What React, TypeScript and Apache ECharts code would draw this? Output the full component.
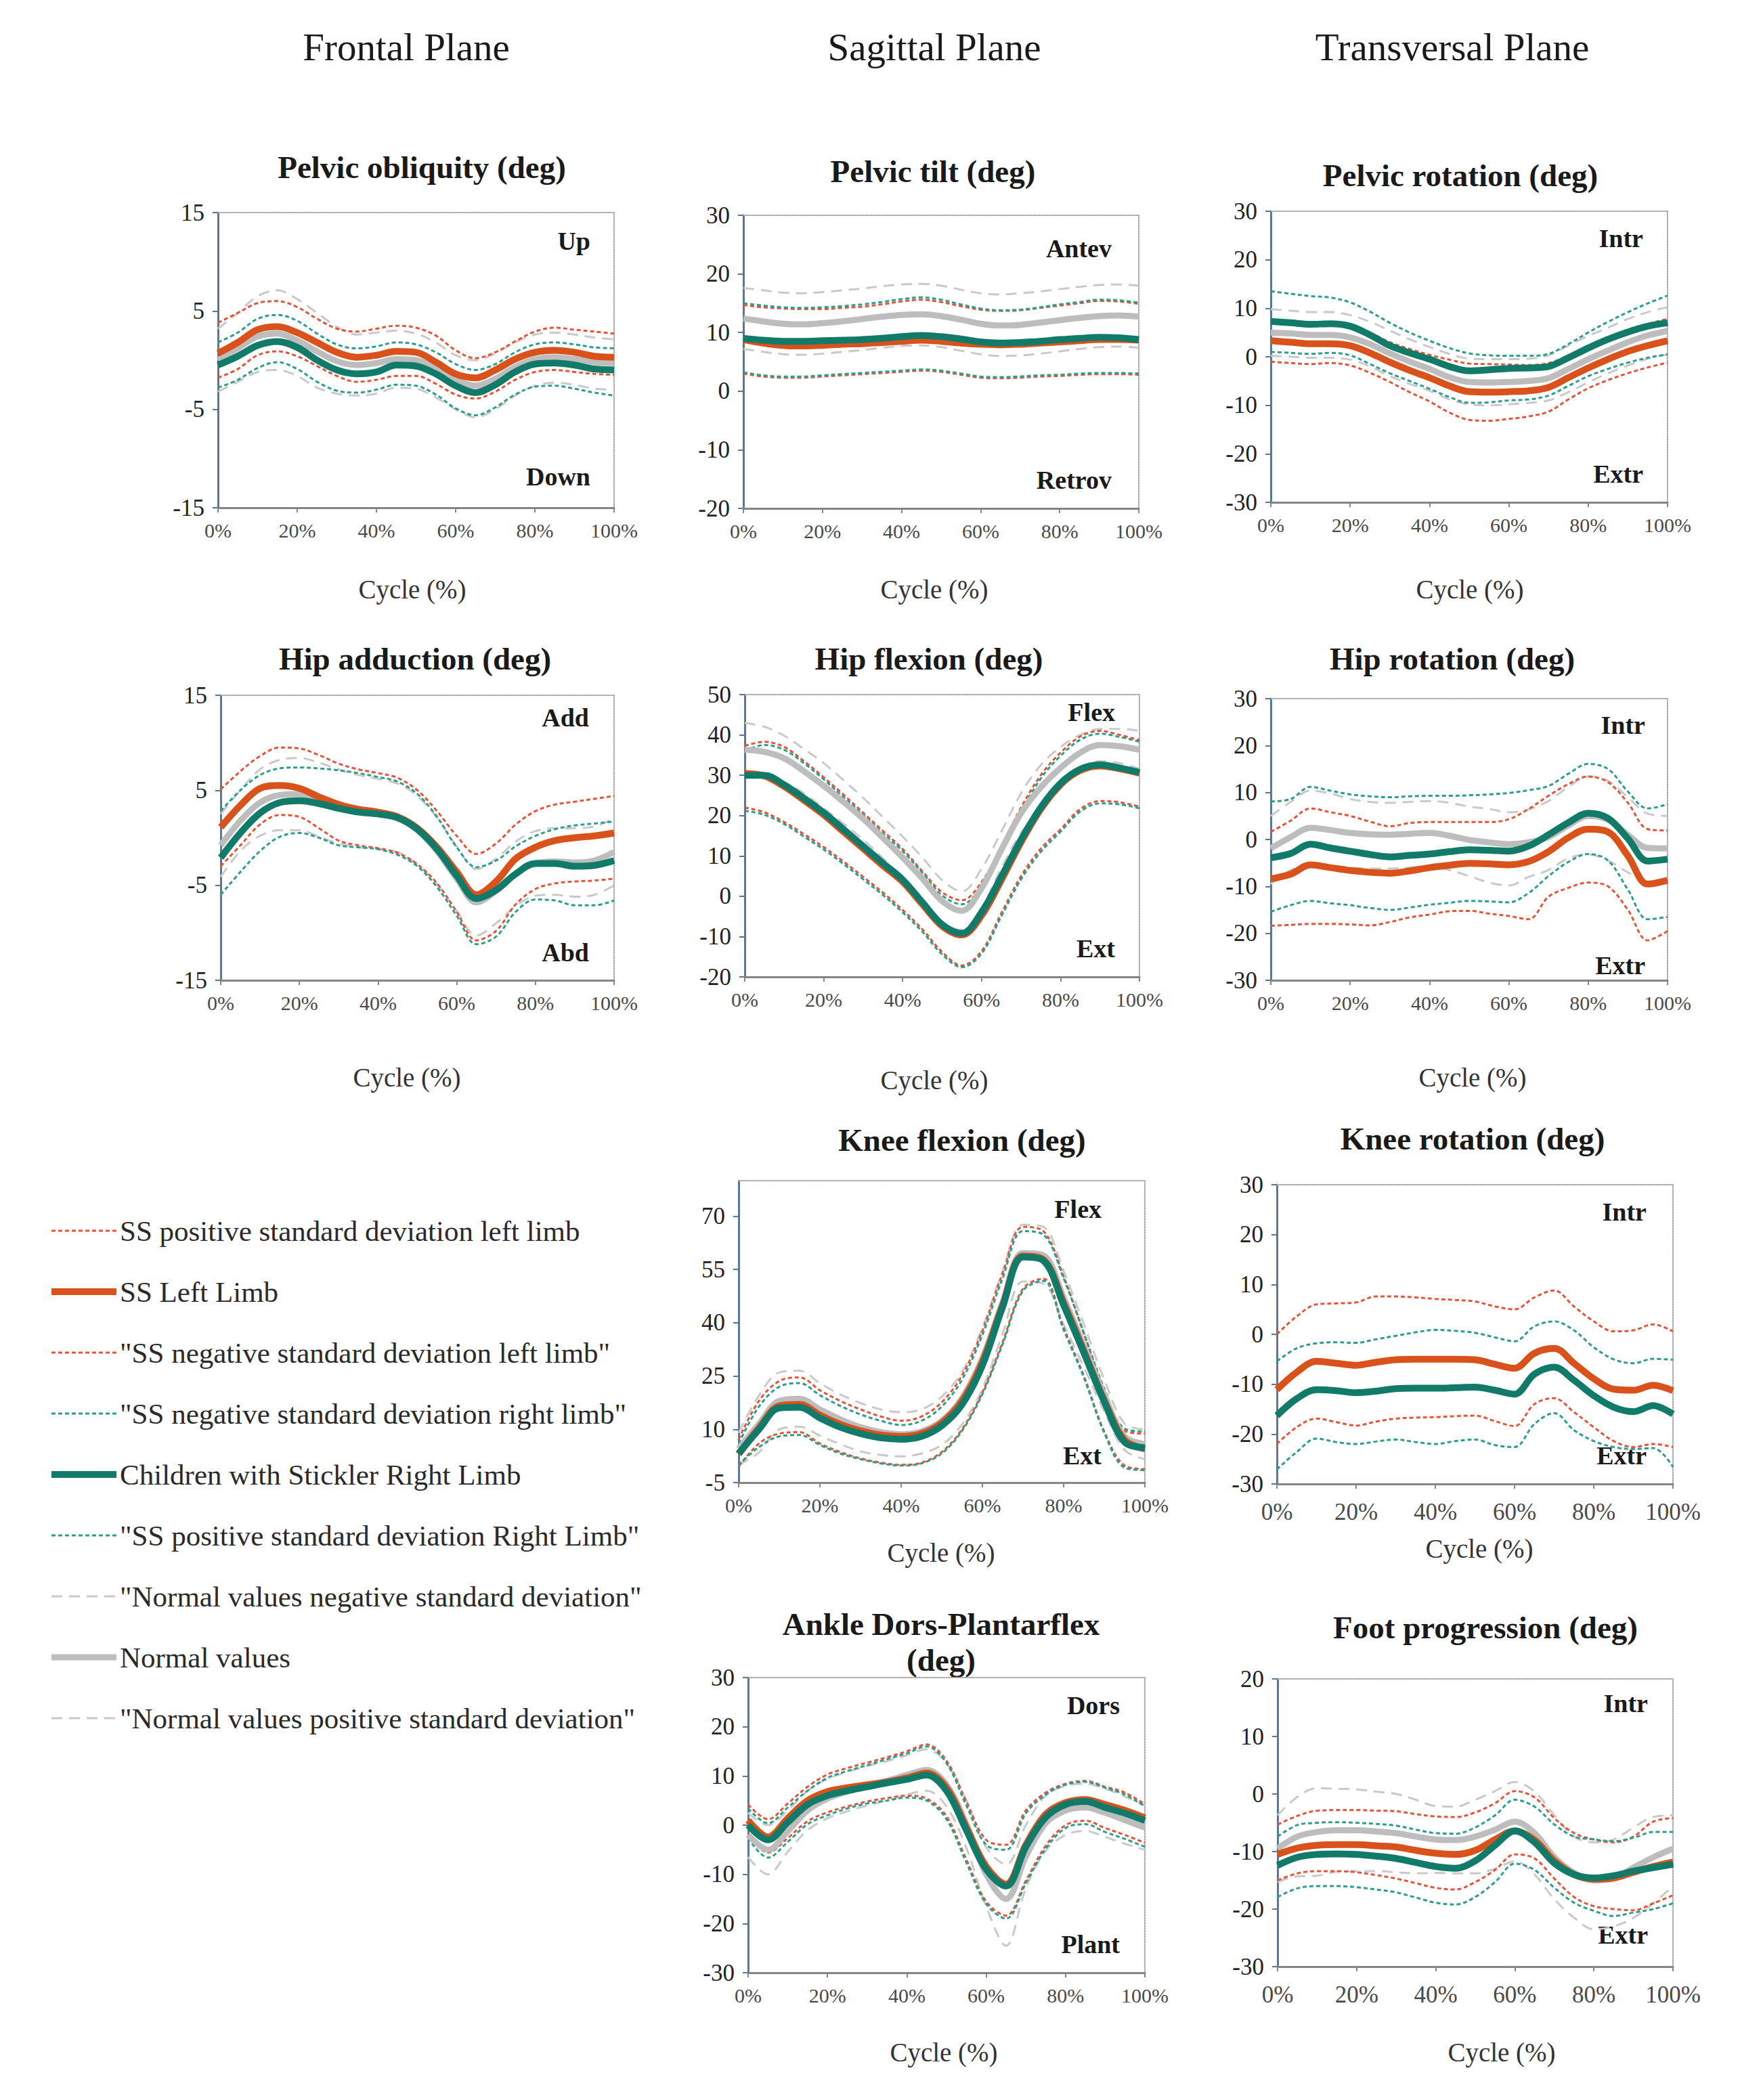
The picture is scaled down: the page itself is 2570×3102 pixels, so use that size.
import React, { useEffect, useRef } from "react";
import * as echarts from "echarts";

// ---------- data (gait cycle %, degrees) ----------
const X = [0, 5, 10, 15, 20, 25, 30, 35, 40, 45, 50, 55, 60, 65, 70, 75, 80, 85, 90, 95, 100];

// Pelvic obliquity
const PO_L = [0.7, 1.8, 3.1, 3.4, 2.8, 1.8, 0.8, 0.3, 0.5, 0.9, 0.8, -0.2, -1.4, -1.8, -1.0, 0.1, 0.8, 1.0, 0.8, 0.4, 0.3];
const PO_L_P = [3.8, 4.8, 5.8, 6.0, 5.4, 4.2, 3.2, 2.9, 3.2, 3.5, 3.3, 2.5, 1.0, 0.2, 0.8, 1.9, 2.9, 3.3, 3.1, 2.9, 2.7];
const PO_L_N = [-1.8, -0.9, 0.5, 0.9, 0.4, -0.6, -1.6, -2.2, -2.0, -1.6, -1.6, -2.4, -3.5, -3.9, -3.2, -2.0, -1.2, -1.0, -1.2, -1.4, -1.5];
const PO_R = [-0.5, 0.4, 1.5, 1.9, 1.3, 0.0, -1.0, -1.4, -1.2, -0.5, -0.6, -1.4, -2.6, -3.3, -2.5, -1.2, -0.4, -0.3, -0.5, -0.9, -1.0];
const PO_R_P = [1.8, 2.8, 4.2, 4.6, 4.0, 2.7, 1.6, 1.2, 1.4, 1.8, 1.6, 0.8, -0.4, -1.0, -0.4, 0.8, 1.6, 1.8, 1.6, 1.3, 1.2];
const PO_R_N = [-2.8, -2.0, -0.8, -0.2, -0.9, -2.2, -3.1, -3.3, -3.0, -2.5, -2.6, -3.5, -4.9, -5.6, -4.8, -3.5, -2.7, -2.6, -2.9, -3.3, -3.6];
const PO_N = [0.0, 1.2, 2.4, 2.7, 2.0, 0.9, -0.1, -0.5, -0.3, 0.1, 0.0, -0.8, -2.0, -2.6, -1.9, -0.7, 0.1, 0.3, 0.1, -0.2, -0.3];
const PO_N_P = [3.2, 4.8, 6.5, 7.1, 6.2, 4.8, 3.4, 2.6, 2.8, 3.0, 2.7, 1.8, 0.5, 0.0, 0.7, 1.8, 2.6, 2.8, 2.6, 2.3, 2.1];
const PO_N_N = [-3.2, -2.2, -1.2, -1.0, -1.6, -2.8, -3.4, -3.6, -3.4, -2.8, -2.9, -3.8, -5.0, -5.8, -5.0, -3.6, -2.6, -2.3, -2.5, -2.9, -3.0];

// Pelvic tilt
const PT_L = [8.8, 8.2, 7.8, 7.7, 7.8, 8.0, 8.1, 8.3, 8.5, 8.7, 8.5, 8.2, 8.0, 7.9, 8.0, 8.2, 8.4, 8.6, 8.8, 8.8, 8.7];
const PT_R = [9.0, 8.7, 8.5, 8.5, 8.6, 8.7, 8.8, 9.0, 9.3, 9.5, 9.3, 8.9, 8.4, 8.2, 8.3, 8.5, 8.8, 9.0, 9.2, 9.1, 8.8];
const PT_N = [12.4, 11.9, 11.5, 11.4, 11.6, 11.9, 12.3, 12.7, 13.0, 13.1, 12.8, 12.2, 11.5, 11.2, 11.3, 11.7, 12.1, 12.5, 12.8, 12.9, 12.7];
const PT_N_P = [17.6, 17.2, 16.8, 16.7, 16.9, 17.2, 17.5, 17.9, 18.2, 18.3, 18.0, 17.3, 16.7, 16.5, 16.7, 17.0, 17.4, 17.8, 18.1, 18.2, 18.0];
const PT_N_N = [7.2, 6.7, 6.3, 6.2, 6.4, 6.7, 7.0, 7.4, 7.7, 7.8, 7.5, 6.9, 6.3, 6.0, 6.1, 6.4, 6.8, 7.2, 7.5, 7.6, 7.4];
const PT_L_P = [14.7, 14.3, 14.1, 14.0, 14.0, 14.2, 14.4, 14.8, 15.3, 15.6, 15.2, 14.5, 13.9, 13.7, 13.8, 14.2, 14.6, 15.0, 15.4, 15.3, 14.9];
const PT_R_P = [15.0, 14.6, 14.3, 14.2, 14.3, 14.5, 14.8, 15.2, 15.7, 16.0, 15.6, 14.8, 14.1, 13.8, 13.9, 14.3, 14.8, 15.2, 15.6, 15.5, 15.1];
const PT_L_N = [3.0, 2.5, 2.3, 2.3, 2.5, 2.7, 2.9, 3.1, 3.3, 3.5, 3.3, 2.8, 2.3, 2.2, 2.3, 2.5, 2.6, 2.8, 2.9, 2.9, 2.8];
const PT_R_N = [3.2, 2.7, 2.5, 2.5, 2.7, 2.9, 3.1, 3.3, 3.5, 3.7, 3.5, 3.0, 2.5, 2.4, 2.5, 2.7, 2.8, 3.0, 3.1, 3.1, 3.0];

// Pelvic rotation
const PR_R = [7.3, 7.0, 6.7, 6.8, 6.3, 4.5, 2.3, 0.8, -0.5, -2.0, -2.9, -2.7, -2.4, -2.3, -2.0, -0.2, 1.8, 3.6, 5.1, 6.3, 7.0];
const PR_L = [3.3, 3.0, 2.7, 2.7, 2.3, 0.8, -1.1, -2.8, -4.3, -6.0, -7.2, -7.3, -7.2, -7.0, -6.3, -4.3, -2.3, -0.5, 1.1, 2.3, 3.3];
const PR_N = [5.0, 4.8, 4.5, 4.5, 4.0, 2.6, 0.7, -1.0, -2.5, -4.2, -5.2, -5.3, -5.2, -5.0, -4.4, -2.5, -0.5, 1.3, 3.0, 4.4, 5.3];
const PR_N_P = [9.8, 9.5, 9.2, 9.2, 8.6, 7.2, 5.4, 3.6, 2.0, 0.6, -0.4, -0.5, -0.5, -0.4, 0.3, 2.3, 4.3, 6.0, 7.8, 9.2, 10.2];
const PR_N_N = [0.2, 0.0, -0.2, -0.2, -0.6, -2.0, -4.0, -5.6, -7.0, -8.8, -9.8, -10.0, -9.8, -9.5, -9.0, -7.3, -5.3, -3.4, -1.8, -0.4, 0.5];
const PR_R_P = [13.5, 13.0, 12.5, 12.2, 11.2, 9.3, 7.0, 5.0, 3.3, 1.8, 0.7, 0.3, 0.2, 0.2, 0.6, 2.6, 5.0, 7.2, 9.2, 11.0, 12.6];
const PR_R_N = [1.0, 0.8, 0.6, 0.8, 0.3, -1.5, -3.4, -5.0, -6.6, -8.3, -9.5, -9.4, -9.0, -8.8, -8.0, -6.0, -4.0, -2.5, -1.2, -0.2, 0.5];
const PR_L_N = [-1.0, -1.3, -1.5, -1.3, -1.8, -3.3, -5.2, -7.3, -9.2, -11.5, -13.0, -13.2, -12.8, -12.3, -11.3, -8.8, -6.5, -4.8, -3.4, -2.2, -1.2];
const PR_L_P = [7.6, 7.3, 7.0, 7.0, 6.5, 5.0, 3.0, 1.6, 0.4, -0.6, -1.4, -1.5, -1.6, -1.7, -1.3, 0.2, 1.9, 3.8, 5.6, 6.8, 7.8];

// Hip adduction
const HA_L = [1.1, 3.4, 5.2, 5.5, 5.2, 4.3, 3.5, 3.0, 2.7, 2.2, 1.0, -1.0, -3.6, -6.0, -4.6, -2.2, -1.0, -0.3, 0.0, 0.2, 0.5];
const HA_R = [-2.1, 0.5, 2.6, 3.7, 3.9, 3.6, 3.1, 2.7, 2.5, 2.1, 0.9, -1.2, -4.0, -6.4, -5.5, -3.8, -2.7, -2.7, -3.0, -2.9, -2.4];
const HA_N = [-0.8, 1.8, 3.7, 4.5, 4.6, 4.0, 3.3, 2.8, 2.5, 2.1, 0.8, -1.4, -4.3, -6.8, -5.6, -3.8, -2.7, -2.5, -2.6, -2.4, -1.5];
const HA_L_P = [5.1, 7.0, 8.6, 9.5, 9.4, 8.7, 7.8, 7.2, 6.8, 6.3, 5.0, 2.8, 0.2, -1.7, -0.6, 1.4, 2.8, 3.5, 3.8, 4.1, 4.4];
const HA_L_N = [-3.0, -0.8, 1.4, 2.4, 2.2, 1.0, -0.3, -0.8, -1.1, -1.6, -2.8, -4.8, -7.8, -10.8, -9.8, -7.0, -5.4, -4.8, -4.6, -4.5, -4.3];
const HA_R_P = [2.8, 5.0, 6.6, 7.3, 7.4, 7.3, 7.1, 6.8, 6.4, 5.9, 4.6, 2.2, -1.0, -3.1, -2.4, -0.9, 0.2, 0.9, 1.3, 1.5, 1.7];
const HA_R_N = [-6.0, -3.6, -1.4, 0.1, 0.5, 0.0, -0.8, -1.0, -1.2, -1.8, -3.0, -5.2, -8.2, -11.2, -10.4, -7.8, -6.5, -6.6, -7.1, -7.1, -6.6];
const HA_N_P = [2.5, 5.0, 7.2, 8.2, 8.4, 7.9, 7.2, 6.6, 6.2, 5.7, 4.4, 2.1, -0.9, -3.3, -2.2, -0.4, 0.7, 1.0, 1.0, 1.2, 2.0];
const HA_N_N = [-4.1, -1.4, 0.2, 0.8, 0.8, 0.1, -0.6, -1.0, -1.2, -1.5, -2.8, -4.9, -7.7, -10.3, -9.0, -7.2, -6.1, -6.0, -6.2, -6.0, -5.0];

// Hip flexion
const HF_R = [30.0, 30.0, 27.6, 24.3, 20.7, 16.6, 12.4, 8.2, 4.1, -1.5, -7.0, -9.2, -4.0, 4.8, 14.0, 22.0, 28.0, 31.5, 32.6, 31.8, 30.7];
const HF_L = [30.5, 29.8, 27.2, 23.8, 20.2, 16.0, 11.8, 7.6, 3.6, -2.0, -7.4, -9.6, -4.8, 4.0, 13.4, 21.6, 27.7, 31.2, 32.3, 31.6, 30.5];
const HF_N = [36.3, 35.8, 34.2, 31.0, 27.4, 23.4, 19.2, 14.5, 9.6, 4.4, -1.2, -3.6, 2.0, 11.5, 20.6, 27.0, 31.8, 35.6, 37.5, 37.2, 36.3];
const HF_N_P = [43.0, 42.0, 39.8, 36.5, 33.0, 28.8, 24.4, 19.6, 14.8, 9.6, 4.0, 1.2, 6.8, 16.0, 25.5, 32.5, 37.0, 40.0, 41.5, 41.5, 41.0];
const HF_N_N = [29.6, 29.4, 28.2, 25.5, 21.8, 18.0, 14.0, 9.4, 4.4, -0.8, -6.4, -8.4, -2.8, 7.0, 15.7, 21.5, 26.6, 31.2, 33.5, 33.0, 31.6];
const HF_L_P = [37.3, 38.3, 37.0, 33.5, 29.5, 25.2, 20.7, 16.2, 11.7, 6.2, 1.0, -1.0, 3.5, 12.4, 22.0, 30.0, 35.6, 39.6, 41.0, 40.0, 38.7];
const HF_R_P = [36.0, 37.5, 36.3, 33.0, 29.0, 24.6, 20.2, 15.6, 11.2, 5.8, 0.2, -2.0, 2.5, 11.5, 21.0, 29.2, 34.8, 38.8, 40.3, 39.5, 38.3];
const HF_L_N = [22.0, 20.8, 18.4, 15.4, 12.2, 8.6, 4.8, 0.9, -3.4, -8.2, -13.8, -17.2, -13.6, -4.2, 5.0, 11.8, 16.6, 21.6, 23.6, 23.3, 22.2];
const HF_R_N = [21.2, 20.2, 17.9, 14.8, 11.6, 8.0, 4.2, 0.3, -4.0, -8.8, -14.4, -17.6, -14.2, -5.0, 4.2, 11.0, 16.0, 21.0, 23.0, 22.8, 21.8];

// Hip rotation
const HR_R = [-3.9, -3.0, -1.0, -1.8, -2.5, -3.2, -3.7, -3.4, -3.1, -2.6, -2.2, -2.3, -2.5, -1.4, 1.0, 3.6, 5.6, 4.5, 0.2, -4.6, -4.2];
const HR_L = [-8.4, -7.4, -5.4, -6.0, -6.6, -7.0, -7.2, -6.7, -6.0, -5.5, -5.1, -5.2, -5.4, -4.7, -2.6, 0.4, 2.2, 1.6, -3.5, -9.5, -8.7];
const HR_N = [-1.9, 0.5, 2.5, 2.0, 1.4, 1.1, 1.0, 1.2, 1.4, 0.8, -0.1, -0.6, -1.0, -0.6, 0.5, 3.0, 5.0, 4.2, 1.0, -1.8, -1.9];
const HR_L_P = [1.6, 4.0, 6.6, 5.8, 5.0, 3.8, 2.8, 3.5, 3.7, 3.7, 3.7, 3.7, 4.3, 6.5, 9.3, 11.8, 13.4, 12.2, 7.8, 2.2, 1.9];
const HR_R_P = [8.1, 8.6, 11.2, 10.4, 9.6, 9.2, 9.0, 9.2, 9.3, 9.3, 9.4, 9.6, 9.9, 10.5, 11.4, 14.0, 16.1, 15.0, 10.2, 6.6, 7.5];
const HR_N_P = [5.0, 8.0, 10.4, 9.8, 8.6, 8.0, 7.8, 8.0, 8.2, 7.8, 7.0, 6.5, 5.8, 6.4, 8.2, 11.2, 13.4, 12.5, 9.0, 5.5, 5.0];
const HR_N_N = [-9.5, -6.5, -5.0, -5.5, -6.0, -6.2, -6.2, -6.0, -5.8, -6.5, -7.8, -9.2, -9.8, -8.0, -6.5, -4.0, -3.2, -4.5, -7.0, -9.0, -9.2];
const HR_R_N = [-15.4, -14.0, -13.1, -13.6, -14.0, -14.6, -15.0, -14.5, -13.9, -13.5, -13.1, -13.2, -13.4, -11.4, -7.8, -4.8, -3.1, -4.5, -10.7, -17.0, -16.5];
const HR_L_N = [-18.4, -18.2, -18.0, -18.0, -18.1, -18.3, -17.6, -16.6, -16.0, -15.3, -15.2, -15.8, -16.3, -17.0, -12.2, -10.3, -9.2, -10.0, -15.0, -21.5, -19.5];

// Knee flexion
const KF_R = [3.2, 10.0, 16.0, 16.2, 13.2, 10.6, 8.8, 7.6, 7.2, 8.0, 11.0, 17.0, 28.0, 44.5, 58.5, 57.5, 45.0, 31.5, 17.8, 6.4, 4.8];
const KF_L = [3.0, 10.4, 16.6, 17.0, 14.0, 11.4, 9.6, 8.4, 8.0, 8.8, 11.8, 18.0, 29.0, 45.0, 58.8, 57.8, 45.6, 32.0, 18.2, 7.0, 4.5];
const KF_N = [4.5, 11.5, 18.0, 18.6, 15.6, 12.8, 10.6, 9.2, 8.6, 9.4, 12.4, 18.8, 30.0, 45.8, 59.6, 59.0, 47.0, 33.5, 19.6, 8.0, 5.8];
const KF_L_P = [7.2, 18.0, 23.6, 24.6, 21.0, 18.0, 15.6, 13.6, 12.4, 13.6, 17.6, 25.2, 37.8, 54.0, 67.0, 65.8, 53.0, 37.0, 21.0, 9.6, 8.8];
const KF_R_P = [6.0, 16.4, 22.0, 23.0, 19.6, 16.6, 14.2, 12.4, 11.2, 12.4, 16.4, 24.0, 36.6, 52.6, 65.8, 64.8, 52.5, 37.0, 21.5, 10.2, 9.4];
const KF_L_N = [-0.5, 6.0, 8.8, 9.2, 6.0, 3.6, 1.8, 0.6, 0.0, 0.6, 3.6, 10.0, 20.4, 34.6, 49.6, 52.4, 38.6, 25.0, 9.4, -0.2, -1.2];
const KF_R_N = [0.0, 5.0, 8.0, 8.4, 5.6, 3.2, 1.6, 0.4, -0.2, 0.4, 3.2, 9.6, 19.9, 34.0, 49.0, 51.8, 38.0, 24.5, 9.0, -0.8, -1.5];
const KF_N_P = [9.0, 19.5, 26.0, 26.5, 23.0, 19.8, 17.4, 15.6, 14.8, 15.6, 19.2, 26.2, 38.6, 54.6, 67.6, 67.0, 54.5, 39.5, 24.0, 11.6, 10.0];
const KF_N_N = [0.0, 3.5, 10.0, 10.7, 8.2, 5.8, 3.8, 2.8, 2.4, 3.2, 5.6, 11.4, 21.4, 37.0, 51.6, 51.0, 39.5, 27.5, 15.0, 4.2, 1.6];

// Knee rotation (no normal values)
const KR_L = [-11.1, -7.6, -5.4, -5.8, -6.2, -5.6, -5.1, -5.0, -5.0, -5.0, -5.1, -6.0, -6.8, -3.8, -2.8, -5.8, -8.9, -11.0, -11.2, -10.2, -11.3];
const KR_R = [-16.3, -12.9, -11.1, -11.3, -11.7, -11.4, -10.9, -10.8, -10.8, -10.7, -10.6, -11.2, -12.0, -8.0, -6.6, -9.2, -12.3, -14.6, -15.5, -14.3, -16.0];
const KR_L_P = [0.0, 3.6, 6.0, 6.2, 6.4, 7.6, 7.6, 7.4, 7.1, 6.9, 6.6, 5.6, 5.0, 7.4, 8.8, 5.6, 2.6, 0.6, 0.8, 2.0, 0.6];
const KR_R_P = [-5.4, -2.8, -1.8, -1.6, -1.7, -1.0, -0.3, 0.4, 0.9, 0.7, 0.3, -0.6, -1.4, 1.6, 2.6, 0.8, -2.6, -5.0, -5.8, -4.9, -5.1];
const KR_L_N = [-22.0, -18.6, -16.9, -17.6, -18.3, -17.5, -16.9, -16.7, -16.6, -16.4, -16.3, -17.4, -18.4, -14.0, -12.8, -15.6, -18.6, -21.4, -22.6, -22.0, -22.6];
const KR_R_N = [-27.1, -23.6, -20.9, -21.6, -22.0, -21.5, -21.1, -21.6, -22.0, -21.4, -21.1, -22.2, -22.6, -18.0, -15.8, -19.2, -21.4, -22.6, -23.0, -22.8, -26.6];

// Ankle dorsi-plantarflexion
const AN_R = [0.0, -3.0, 0.6, 4.2, 6.0, 7.0, 7.8, 8.6, 9.3, 10.2, 7.0, -1.0, -9.0, -12.4, -4.4, 1.6, 4.2, 4.8, 3.6, 2.4, 0.9];
const AN_L = [1.0, -2.4, 1.4, 5.0, 6.8, 7.6, 8.2, 8.8, 9.6, 10.6, 7.6, -0.4, -8.4, -12.0, -4.0, 2.2, 4.6, 5.2, 4.2, 3.0, 1.5];
const AN_N = [-2.0, -5.0, -1.2, 3.0, 5.4, 6.8, 8.0, 9.0, 10.2, 11.2, 8.2, 0.2, -10.0, -15.0, -6.4, 0.4, 3.0, 3.6, 2.5, 1.0, -0.5];
const AN_L_P = [4.2, 1.2, 4.4, 7.8, 10.3, 11.6, 12.7, 13.8, 15.0, 16.4, 13.1, 4.8, -3.0, -4.0, 3.0, 6.6, 8.4, 9.0, 7.8, 6.6, 4.2];
const AN_R_P = [3.4, 0.4, 3.6, 7.0, 9.6, 11.0, 12.2, 13.4, 14.6, 16.0, 12.6, 4.0, -4.0, -5.0, 2.4, 6.2, 8.2, 8.8, 7.6, 6.2, 3.8];
const AN_L_N = [-1.8, -5.6, -2.6, 0.8, 2.6, 3.8, 4.8, 5.5, 6.0, 5.4, 1.8, -7.0, -15.5, -18.4, -11.3, -4.2, 0.0, 0.9, -0.6, -2.0, -3.6];
const AN_R_N = [-2.6, -6.6, -3.4, 0.2, 2.0, 3.4, 4.4, 5.0, 5.6, 5.0, 1.2, -7.6, -16.0, -19.0, -11.8, -4.8, -0.6, 0.2, -1.4, -2.8, -4.4];
const AN_N_P = [2.5, 0.0, 3.0, 7.0, 9.4, 10.8, 12.0, 13.0, 14.2, 15.4, 12.6, 5.0, -4.5, -8.0, 0.0, 6.0, 8.0, 8.4, 7.4, 5.8, 4.0];
const AN_N_N = [-6.5, -10.0, -5.4, -1.0, 1.4, 2.8, 4.0, 5.0, 6.2, 7.0, 3.8, -4.6, -16.5, -24.5, -12.8, -5.2, -2.0, -1.2, -2.4, -3.8, -5.0];

// Foot progression
const FP_L = [-10.5, -9.4, -8.9, -8.8, -8.8, -9.0, -9.2, -9.8, -10.3, -10.5, -9.8, -7.9, -6.4, -8.0, -11.6, -14.0, -14.8, -14.6, -13.6, -12.6, -11.8];
const FP_R = [-12.4, -11.0, -10.5, -10.4, -10.5, -10.8, -11.2, -11.9, -12.6, -12.9, -11.6, -8.9, -6.4, -8.4, -12.0, -14.0, -14.6, -14.2, -13.4, -12.8, -12.2];
const FP_N = [-9.5, -7.4, -6.6, -6.3, -6.3, -6.5, -6.8, -7.4, -7.9, -8.0, -7.4, -6.2, -4.8, -6.8, -11.0, -13.7, -15.0, -14.7, -12.8, -11.0, -9.5];
const FP_L_P = [-5.3, -3.8, -2.9, -2.8, -2.8, -2.9, -3.0, -3.5, -3.9, -4.0, -3.2, -1.6, 0.5, -0.6, -4.2, -6.8, -7.9, -8.4, -7.4, -4.8, -4.2];
const FP_R_P = [-7.4, -5.4, -5.0, -4.9, -5.0, -5.2, -5.5, -6.2, -6.8, -6.9, -5.8, -3.7, -1.0, -2.2, -5.3, -7.4, -7.9, -8.2, -7.6, -6.6, -6.6];
const FP_L_N = [-15.0, -13.8, -13.4, -13.4, -13.6, -14.1, -14.7, -15.5, -16.3, -16.6, -15.3, -13.2, -10.5, -11.2, -14.7, -17.9, -19.5, -20.0, -20.2, -19.0, -17.6];
const FP_R_N = [-17.9, -16.4, -16.0, -16.0, -16.2, -16.6, -17.1, -18.0, -18.9, -19.2, -17.9, -15.3, -12.1, -13.2, -16.3, -18.9, -20.3, -21.2, -20.6, -20.0, -19.0];
const FP_N_P = [-3.7, -0.5, 1.0, 0.9, 0.8, 0.4, 0.0, -1.0, -2.1, -2.2, -1.0, 0.5, 2.1, 0.4, -3.7, -7.4, -8.4, -7.9, -5.8, -4.0, -3.7];
const FP_N_N = [-15.3, -14.3, -14.2, -13.5, -13.4, -13.4, -13.6, -13.8, -13.7, -13.8, -13.8, -13.0, -11.7, -14.0, -18.3, -21.5, -23.5, -23.0, -21.5, -19.0, -16.0];

// ---------- series names (legend order) ----------
const NAME = {
  LP: "SS positive standard deviation left limb",
  L: "SS Left Limb",
  LN: "\"SS negative standard deviation left limb\"",
  RN: "\"SS negative standard deviation right limb\"",
  R: "Children with Stickler Right Limb",
  RP: "\"SS positive standard deviation Right Limb\"",
  NN: "\"Normal values negative standard deviation\"",
  N: "Normal values",
  NP: "\"Normal values positive standard deviation\"",
};
const LEGEND_ORDER = [NAME.LP, NAME.L, NAME.LN, NAME.RN, NAME.R, NAME.RP, NAME.NN, NAME.N, NAME.NP];

const PLOTS = [
  { title: "Pelvic obliquity (deg)", min: -15, max: 15, interval: 10, up: "Up", down: "Down",
    s: { NN: PO_N_N, NP: PO_N_P, LP: PO_L_P, LN: PO_L_N, RP: PO_R_P, RN: PO_R_N, N: PO_N, L: PO_L, R: PO_R } },
  { title: "Pelvic tilt (deg)", min: -20, max: 30, interval: 10, up: "Antev", down: "Retrov",
    s: { NN: PT_N_N, NP: PT_N_P, LP: PT_L_P, LN: PT_L_N, RP: PT_R_P, RN: PT_R_N, N: PT_N, L: PT_L, R: PT_R } },
  { title: "Pelvic rotation (deg)", min: -30, max: 30, interval: 10, up: "Intr", down: "Extr",
    s: { NN: PR_N_N, NP: PR_N_P, LP: PR_L_P, LN: PR_L_N, RP: PR_R_P, RN: PR_R_N, N: PR_N, L: PR_L, R: PR_R } },
  { title: "Hip adduction (deg)", min: -15, max: 15, interval: 10, up: "Add", down: "Abd",
    s: { NN: HA_N_N, NP: HA_N_P, LP: HA_L_P, LN: HA_L_N, RP: HA_R_P, RN: HA_R_N, N: HA_N, L: HA_L, R: HA_R } },
  { title: "Hip flexion (deg)", min: -20, max: 50, interval: 10, up: "Flex", down: "Ext",
    s: { NN: HF_N_N, NP: HF_N_P, LP: HF_L_P, LN: HF_L_N, RP: HF_R_P, RN: HF_R_N, N: HF_N, L: HF_L, R: HF_R } },
  { title: "Hip rotation (deg)", min: -30, max: 30, interval: 10, up: "Intr", down: "Extr",
    s: { NN: HR_N_N, NP: HR_N_P, LP: HR_L_P, LN: HR_L_N, RP: HR_R_P, RN: HR_R_N, N: HR_N, L: HR_L, R: HR_R } },
  { title: "Knee flexion (deg)", min: -5, max: 80, interval: 15, up: "Flex", down: "Ext", hideMax: true,
    s: { NN: KF_N_N, NP: KF_N_P, LP: KF_L_P, LN: KF_L_N, RP: KF_R_P, RN: KF_R_N, N: KF_N, L: KF_L, R: KF_R } },
  { title: "Knee rotation (deg)", min: -30, max: 30, interval: 10, up: "Intr", down: "Extr",
    s: { LP: KR_L_P, LN: KR_L_N, RP: KR_R_P, RN: KR_R_N, L: KR_L, R: KR_R } },
  { title: "Ankle Dors-Plantarflex\n(deg)", min: -30, max: 30, interval: 10, up: "Dors", down: "Plant",
    s: { NN: AN_N_N, NP: AN_N_P, LP: AN_L_P, LN: AN_L_N, RP: AN_R_P, RN: AN_R_N, N: AN_N, L: AN_L, R: AN_R } },
  { title: "Foot progression (deg)", min: -30, max: 20, interval: 10, up: "Intr", down: "Extr",
    s: { NN: FP_N_N, NP: FP_N_P, LP: FP_L_P, LN: FP_L_N, RP: FP_R_P, RN: FP_R_N, N: FP_N, L: FP_L, R: FP_R } },
];

// ---------- layout (pixels) ----------
const LAYOUT = [
  { left: 322, top: 314, width: 585, height: 436, tx: 623, ty: 247, cx: 609, cy: 870, lx: 872, uy: 356, dy: 704, xf: 30, xm: 18 },
  { left: 1098, top: 318, width: 584, height: 433, tx: 1378, ty: 253, cx: 1380, cy: 870, lx: 1642, uy: 367, dy: 709, xf: 30, xm: 18 },
  { left: 1877, top: 312, width: 586, height: 430, tx: 2157, ty: 259, cx: 2171, cy: 870, lx: 2427, uy: 352, dy: 700, xf: 30, xm: 18 },
  { left: 326, top: 1027, width: 581, height: 421, tx: 613, ty: 973, cx: 601, cy: 1591, lx: 870, uy: 1060, dy: 1407, xf: 30, xm: 18 },
  { left: 1100, top: 1026, width: 583, height: 417, tx: 1372, ty: 973, cx: 1380, cy: 1595, lx: 1647, uy: 1052, dy: 1401, xf: 30, xm: 18 },
  { left: 1877, top: 1032, width: 586, height: 416, tx: 2145, ty: 973, cx: 2175, cy: 1591, lx: 2430, uy: 1071, dy: 1426, xf: 30, xm: 18 },
  { left: 1091, top: 1744, width: 600, height: 446, tx: 1421, ty: 1684, cx: 1390, cy: 2293, lx: 1627, uy: 1786, dy: 2150, xf: 30, xm: 18 },
  { left: 1886, top: 1750, width: 585, height: 442, tx: 2175, ty: 1682, cx: 2185, cy: 2287, lx: 2432, uy: 1790, dy: 2150, xf: 35, xm: 24 },
  { left: 1105, top: 2478, width: 586, height: 436, tx: 1390, ty: 2425, cx: 1394, cy: 3031, lx: 1654, uy: 2519, dy: 2872, xf: 30, xm: 18 },
  { left: 1887, top: 2480, width: 584, height: 425, tx: 2194, ty: 2404, cx: 2218, cy: 3031, lx: 2434, uy: 2516, dy: 2858, xf: 35, xm: 24 },
];

const FONT = "'Liberation Serif', 'Times New Roman', serif";

const STYLE: Record<string, any> = {
  LP: { color: "#e2553a", width: 3, type: [6, 4], z: 3 },
  LN: { color: "#e2553a", width: 3, type: [6, 4], z: 3 },
  RP: { color: "#2e9e8c", width: 3, type: [6, 4], z: 3 },
  RN: { color: "#2e9e8c", width: 3, type: [6, 4], z: 3 },
  NP: { color: "#c9c9c9", width: 3, type: [16, 10], z: 2 },
  NN: { color: "#c9c9c9", width: 3, type: [16, 10], z: 2 },
  N: { color: "#bdbdbd", width: 9, type: "solid", z: 4 },
  L: { color: "#d9521c", width: 10, type: "solid", z: 5 },
  R: { color: "#127a68", width: 10, type: "solid", z: 6 },
};
const DRAW_ORDER = ["NN", "NP", "LP", "LN", "RP", "RN", "N", "L", "R"];

function buildOption() {
  const grid: any[] = [];
  const xAxis: any[] = [];
  const yAxis: any[] = [];
  const series: any[] = [];
  const graphic: any[] = [];

  PLOTS.forEach((p, i) => {
    const l = LAYOUT[i];
    grid.push({ left: l.left, top: l.top, width: l.width, height: l.height });
    xAxis.push({
      type: "value", gridIndex: i, min: 0, max: 100, interval: 20, position: "bottom",
      axisLine: { show: true, onZero: false, lineStyle: { color: "#858585", width: 3 } },
      axisTick: { show: true, length: 7, lineStyle: { color: "#858585", width: 2 } },
      axisLabel: { formatter: "{value}%", fontSize: l.xf, fontFamily: FONT, color: "#4a4a4a", margin: l.xm },
      splitLine: { show: false },
    });
    yAxis.push({
      type: "value", gridIndex: i, min: p.min, max: p.max, interval: p.interval, position: "left",
      axisLine: { show: true, onZero: false, lineStyle: { color: "#5a7896", width: 3 } },
      axisTick: { show: true, length: 8, lineStyle: { color: "#5a7896", width: 2 } },
      axisLabel: { fontSize: 35, fontFamily: FONT, color: "#222", margin: 20, showMaxLabel: !p.hideMax },
      splitLine: { show: false },
    });
    const s: any = p.s;
    DRAW_ORDER.forEach((k) => {
      const arr = s[k];
      if (!arr) return;
      const st = STYLE[k];
      series.push({
        type: "line", name: (NAME as any)[k], xAxisIndex: i, yAxisIndex: i,
        data: X.map((x, j) => [x, arr[j]]),
        smooth: 0.35, symbol: "none", showSymbol: false, silent: true, z: st.z,
        itemStyle: { color: st.color },
        lineStyle: { color: st.color, width: st.width, type: st.type },
      });
    });

    graphic.push({
      type: "text", x: l.tx, y: l.ty,
      style: { text: p.title, font: `bold 47px ${FONT}`, fill: "#1a1a1a", align: "center", verticalAlign: "middle", lineHeight: 53 },
    });
    graphic.push({
      type: "text", x: l.lx, y: l.uy,
      style: { text: p.up, font: `bold 38px ${FONT}`, fill: "#1a1a1a", align: "right", verticalAlign: "middle" },
    });
    graphic.push({
      type: "text", x: l.lx, y: l.dy,
      style: { text: p.down, font: `bold 38px ${FONT}`, fill: "#1a1a1a", align: "right", verticalAlign: "middle" },
    });
    graphic.push({
      type: "text", x: l.cx, y: l.cy,
      style: { text: "Cycle (%)", font: `39px ${FONT}`, fill: "#333", align: "center", verticalAlign: "middle" },
    });
  });

  // dotted top / right frame lines
  PLOTS.forEach((p, i) => {
    xAxis.push({
      type: "value", gridIndex: i, min: 0, max: 100, position: "top",
      axisLine: { show: true, onZero: false, lineStyle: { color: "#a8a8a8", width: 2, type: "dotted" } },
      axisTick: { show: false }, axisLabel: { show: false }, splitLine: { show: false },
    });
    yAxis.push({
      type: "value", gridIndex: i, min: p.min, max: p.max, position: "right",
      axisLine: { show: true, onZero: false, lineStyle: { color: "#a8a8a8", width: 2, type: "dotted" } },
      axisTick: { show: false }, axisLabel: { show: false }, splitLine: { show: false },
    });
  });

  const headers = [
    { t: "Frontal Plane", x: 600 },
    { t: "Sagittal Plane", x: 1380 },
    { t: "Transversal Plane", x: 2145 },
  ];
  headers.forEach((h) =>
    graphic.push({
      type: "text", x: h.x, y: 69,
      style: { text: h.t, font: `57px ${FONT}`, fill: "#1a1a1a", align: "center", verticalAlign: "middle" },
    })
  );

  return {
    animation: false,
    backgroundColor: "#ffffff",
    grid,
    xAxis,
    yAxis,
    series,
    graphic,
    legend: {
      show: true,
      orient: "vertical",
      left: 66,
      top: 1788,
      itemWidth: 96,
      itemHeight: 20,
      itemGap: 40,
      selectedMode: false,
      data: LEGEND_ORDER,
      lineStyle: { width: "inherit" },
      itemStyle: { color: "transparent", borderWidth: 0, opacity: 0 },
      textStyle: { fontSize: 43, fontFamily: FONT, color: "#2a2a2a", lineHeight: 50 },
    },
  };
}

export default function App() {
  const ref = useRef<HTMLDivElement>(null);
  useEffect(() => {
    if (!ref.current) return;
    const chart = echarts.init(ref.current, null, { renderer: "svg" });
    chart.setOption(buildOption() as any);
    return () => chart.dispose();
  }, []);
  return (
    <div
      ref={ref}
      style={{ position: "absolute", left: 0, top: 0, width: 2570, height: 3102, background: "#fff" }}
    />
  );
}
